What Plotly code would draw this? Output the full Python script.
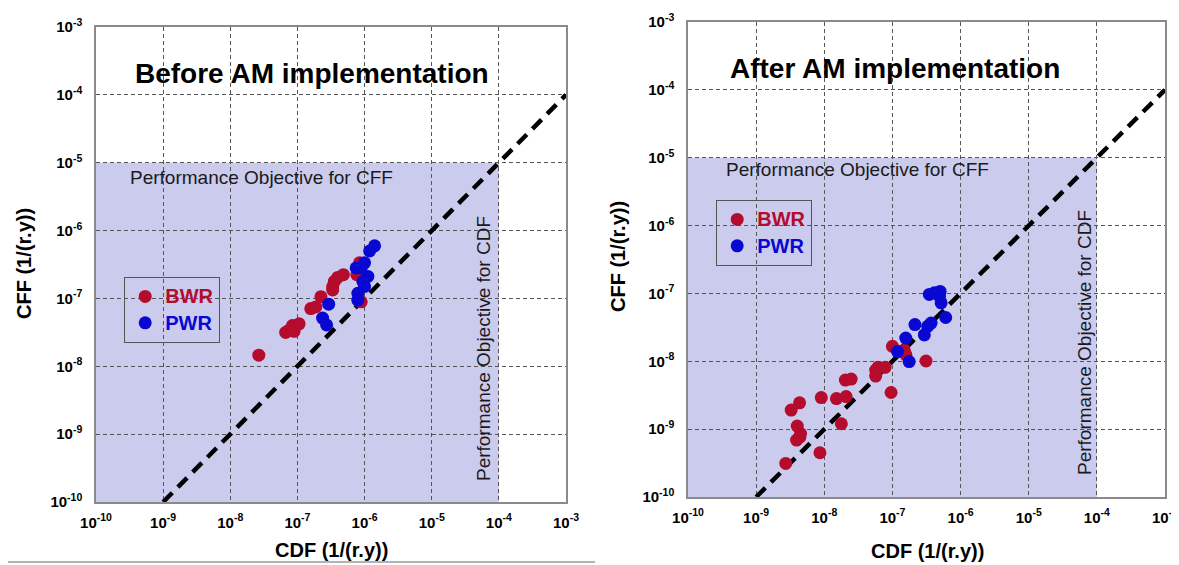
import plotly.graph_objects as go

# ---------------- data ----------------
tick_exponents = [-10, -9, -8, -7, -6, -5, -4, -3]
tick_values = [10.0 ** e for e in tick_exponents]
tick_labels = [f"<b>10<sup>{e}</sup></b>" for e in tick_exponents]

cdf_objective = 1e-4
cff_objective = 1e-5
ref_line_cdf = [1e-9, 1e-3]
ref_line_ratio = 0.1   # CFF = 0.1 x CDF

before_bwr_cdf = [2.66e-8, 6.68e-8, 7.33e-8, 8.41e-8, 8.91e-8, 1.06e-7, 1.58e-7, 1.88e-7,
                  2.24e-7, 3.35e-7, 3.55e-7, 3.98e-7, 4.84e-7, 3.35e-7, 8.41e-7, 7.67e-7, 8.91e-7]
before_bwr_cff = [1.46e-8, 3.16e-8, 3.35e-8, 3.98e-8, 3.27e-8, 4.22e-8, 7.08e-8, 7.50e-8,
                  1.06e-7, 1.50e-7, 1.78e-7, 2.04e-7, 2.24e-7, 1.33e-7, 3.35e-7, 2.24e-7, 8.91e-8]
before_pwr_cdf = [2.92e-7, 2.37e-7, 2.72e-7, 7.50e-7, 1.00e-6, 1.19e-6, 1.41e-6, 1.12e-6,
                  1.00e-6, 7.94e-7, 7.94e-7, 9.44e-7, 8.90e-7]
before_pwr_cff = [8.22e-8, 5.13e-8, 4.07e-8, 2.82e-7, 3.35e-7, 5.01e-7, 5.96e-7, 2.11e-7,
                  1.50e-7, 1.19e-7, 9.44e-8, 1.78e-7, 2.82e-7]

after_bwr_cdf = [2.72e-9, 3.27e-9, 4.34e-9, 4.01e-9, 4.49e-9, 3.92e-9, 4.37e-9, 9.03e-9,
                 8.63e-9, 1.51e-8, 2.09e-8, 1.78e-8, 2.04e-8, 2.48e-8, 5.68e-8, 6.14e-8,
                 7.80e-8, 5.68e-8, 9.55e-8, 1.00e-7, 1.49e-7, 1.58e-7, 3.11e-7]
after_bwr_cff = [3.12e-10, 1.91e-9, 2.44e-9, 1.11e-9, 8.63e-10, 6.89e-10, 7.59e-10, 2.92e-9,
                 4.49e-10, 2.82e-9, 3.02e-9, 1.20e-9, 5.28e-9, 5.47e-9, 7.43e-9, 8.15e-9,
                 8.15e-9, 6.05e-9, 3.47e-9, 1.66e-8, 1.48e-8, 1.24e-8, 1.01e-8]
after_pwr_cdf = [1.19e-7, 1.76e-7, 1.57e-7, 2.14e-7, 3.29e-7, 3.69e-7, 2.94e-7, 3.48e-7,
                 4.13e-7, 4.90e-7, 5.18e-7, 6.05e-7, 5.01e-7]
after_pwr_cff = [1.39e-8, 9.89e-9, 2.20e-8, 3.47e-8, 3.27e-8, 3.66e-8, 2.45e-8, 9.66e-8,
                 1.02e-7, 9.12e-8, 7.26e-8, 4.42e-8, 1.07e-7]

# ---------------- style ----------------
RED = "#b50b2c"
BLUE = "#0808d2"
SHADE = "#cbcbee"
FONT = "Liberation Sans, Arial, sans-serif"

PAGE_W, PAGE_H = 1179, 565
OFF = 8                      # page body margin
FW, FH = PAGE_W - OFF, PAGE_H - OFF

def px(x):
    return (x - OFF) / FW

def py(y):
    return 1 - (y - OFF) / FH

fig = go.Figure()

panels = [
    dict(xa="x", ya="y", leg="legend", bwr=(before_bwr_cdf, before_bwr_cff),
         pwr=(before_pwr_cdf, before_pwr_cff)),
    dict(xa="x2", ya="y2", leg="legend2", bwr=(after_bwr_cdf, after_bwr_cff),
         pwr=(after_pwr_cdf, after_pwr_cff)),
]

def legend_name(label, color):
    return f'<span style="color:{color};font-size:20px"><b>{label}</b></span>'

for p in panels:
    fig.add_trace(go.Scatter(
        x=ref_line_cdf, y=[v * ref_line_ratio for v in ref_line_cdf],
        mode="lines", line=dict(color="black", width=4.5, dash="13px,8px"),
        xaxis=p["xa"], yaxis=p["ya"], showlegend=False, hoverinfo="skip"))
    fig.add_trace(go.Scatter(
        x=p["bwr"][0], y=p["bwr"][1], mode="markers",
        marker=dict(color=RED, size=13),
        name=legend_name("BWR", RED),
        xaxis=p["xa"], yaxis=p["ya"], legend=p["leg"]))
    fig.add_trace(go.Scatter(
        x=p["pwr"][0], y=p["pwr"][1], mode="markers",
        marker=dict(color=BLUE, size=13),
        name=legend_name("PWR", BLUE),
        xaxis=p["xa"], yaxis=p["ya"], legend=p["leg"]))
    fig.add_shape(type="rect", xref=p["xa"], yref=p["ya"],
                  x0=tick_values[0], x1=cdf_objective, y0=tick_values[0], y1=cff_objective,
                  fillcolor=SHADE, line=dict(width=0), layer="below")

axis_common = dict(
    type="log", range=[tick_exponents[0], tick_exponents[-1]],
    tickvals=tick_values, ticktext=tick_labels,
    tickfont=dict(family=FONT, size=15, color="black"),
    showgrid=True, gridcolor="#555555", gridwidth=1, griddash="4px,3px",
    showline=True, mirror=True, linecolor="#8a8a8a", linewidth=1.5,
    ticks="", zeroline=False, automargin=False, minor=dict(showgrid=False),
)

def xd(a, b):
    return [px(a), px(b)]

def yd(top, bottom):
    return [py(bottom), py(top)]

legend_common = dict(xanchor="left", yanchor="top",
                     bordercolor="#555555", borderwidth=1.2, bgcolor="rgba(0,0,0,0)",
                     font=dict(family=FONT, size=18), tracegroupgap=0)

fig.update_layout(
    width=FW, height=FH,
    margin=dict(l=0, r=0, t=0, b=0),
    paper_bgcolor="white", plot_bgcolor="white",
    font=dict(family=FONT, color="black"),
    xaxis=dict(axis_common, domain=xd(96, 566), anchor="y", ticklabelstandoff=6),
    yaxis=dict(axis_common, domain=yd(27, 502), anchor="x", ticklabelstandoff=9),
    xaxis2=dict(axis_common, domain=xd(688, 1165), anchor="y2", ticklabelstandoff=6),
    yaxis2=dict(axis_common, domain=yd(22, 497), anchor="x2", ticklabelstandoff=9),
    legend=dict(legend_common, x=px(124), y=py(277)),
    legend2=dict(legend_common, x=px(716), y=py(200)),
    showlegend=True,
)

def ann(text, x, y, size, bold=False, angle=0, color="black", xanchor="center"):
    fig.add_annotation(
        text=f"<b>{text}</b>" if bold else text, x=px(x), y=py(y),
        xref="paper", yref="paper", showarrow=False, textangle=angle,
        xanchor=xanchor, yanchor="middle",
        font=dict(family=FONT, size=size, color=color))

# panel titles
ann("Before AM implementation", 312, 73, 28, bold=True)
ann("After AM implementation", 895, 69, 28, bold=True)
# objective labels
ann("Performance Objective for CFF", 128, 177, 19, color="#1a1a1a", xanchor="left")
ann("Performance Objective for CFF", 724, 170, 19, color="#1a1a1a", xanchor="left")
ann("Performance Objective for CDF", 483, 349, 19, angle=-90, color="#1a1a1a")
ann("Performance Objective for CDF", 1084, 343, 19, angle=-90, color="#1a1a1a")
# axis titles
ann("CDF (1/(r.y))", 331, 550, 20, bold=True)
ann("CDF (1/(r.y))", 927, 551, 20, bold=True)
ann("CFF (1/(r.y))", 24, 264, 20, bold=True, angle=-90)
ann("CFF (1/(r.y))", 618, 257, 20, bold=True, angle=-90)

# thin rule at the bottom of the left image
fig.add_shape(type="line", xref="paper", yref="paper", x0=px(0), x1=px(595),
              y0=py(562), y1=py(562), line=dict(color="#9a9a9a", width=1.5))

fig.write_html("out.html")
